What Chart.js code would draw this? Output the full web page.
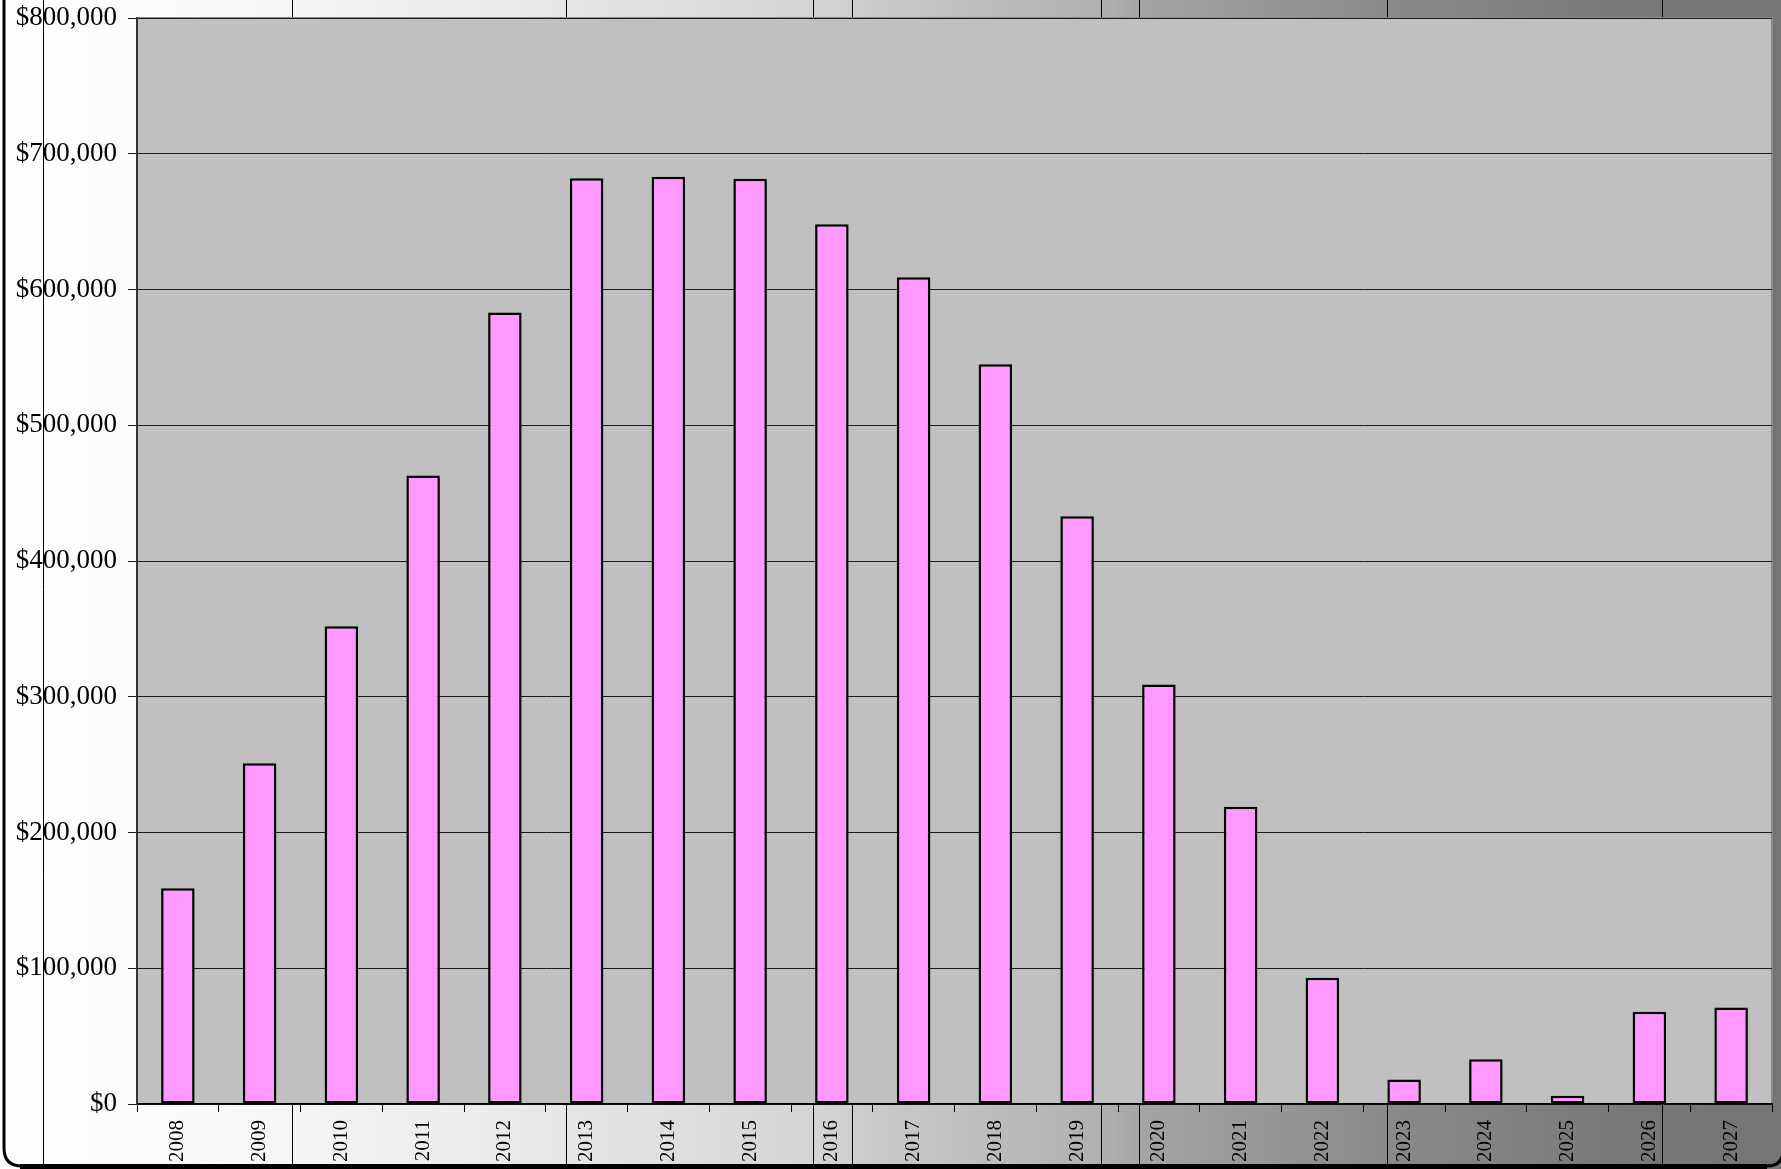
<!DOCTYPE html>
<html>
<head>
    <title>Yearly amounts</title>
    <script src="https://cdn.jsdelivr.net/npm/chart.js"></script>
    <style>
        html, body { margin: 0; padding: 0; background: #fff; }
        #wrap { width: 1781px; height: 1169px; }
    </style>
</head>
<body>
    <div id="wrap">
        <canvas id="barChart" width="1781" height="1169"></canvas>
    </div>

    <script>
        // values
        const years = ['2008', '2009', '2010', '2011', '2012', '2013', '2014', '2015', '2016', '2017',
                       '2018', '2019', '2020', '2021', '2022', '2023', '2024', '2025', '2026', '2027'];
        const amounts = [159000, 251000, 352000, 463000, 583000, 682000, 683000, 681500, 648000, 609000,
                         545000, 433000, 309000, 219000, 93000, 18000, 33000, 6000, 68000, 71000];
        const yMin = 0;
        const yMax = 800000;
        const yStep = 100000;

        // background: grey gradient with thin dark band edges, like the original export
        const bandLines = [43, 292, 566, 813, 852, 1101, 1139, 1387, 1662];

        const backdrop = {
            id: 'backdrop',
            beforeDraw(chart) {
                const ctx = chart.ctx;
                const w = chart.width, h = chart.height;
                const a = chart.chartArea;
                ctx.save();
                const g = ctx.createLinearGradient(0, 0, w, 0);
                g.addColorStop(0, '#ffffff');
                g.addColorStop(0.1, '#fbfbfb');
                g.addColorStop(0.2, '#f2f2f2');
                g.addColorStop(0.32, '#e6e6e6');
                g.addColorStop(0.46, '#d4d4d4');
                g.addColorStop(0.5, '#c8c8c8');
                g.addColorStop(0.62, '#b0b0b0');
                g.addColorStop(0.64, '#a4a4a4');
                g.addColorStop(0.78, '#8a8a8a');
                g.addColorStop(0.93, '#777777');
                g.addColorStop(1, '#757575');
                ctx.fillStyle = g;
                ctx.fillRect(0, 0, w, h);

                ctx.strokeStyle = '#000';
                ctx.lineWidth = 1;
                bandLines.forEach(x => {
                    ctx.beginPath();
                    ctx.moveTo(x + 0.5, 0);
                    ctx.lineTo(x + 0.5, h);
                    ctx.stroke();
                });

                // plot area
                ctx.fillStyle = '#c0c0c0';
                ctx.fillRect(a.left, a.top, a.right - a.left, a.bottom - a.top);
                ctx.strokeStyle = '#8a8a8a';
                ctx.lineWidth = 2;
                ctx.beginPath();
                ctx.moveTo(a.left, a.top);
                ctx.lineTo(a.right, a.top);
                ctx.lineTo(a.right, a.bottom);
                ctx.stroke();
                ctx.restore();
            },
            afterDraw(chart) {
                const ctx = chart.ctx;
                const w = chart.width;
                ctx.save();
                ctx.strokeStyle = '#000';
                ctx.lineWidth = 3;
                ctx.beginPath();
                ctx.moveTo(4, -10);
                ctx.lineTo(4, 1148);
                ctx.quadraticCurveTo(4, 1166, 22, 1166);
                ctx.lineTo(w - 14, 1166);
                ctx.quadraticCurveTo(w + 2, 1166, w + 2, 1150);
                ctx.stroke();
                ctx.fillStyle = '#000';
                ctx.fillRect(20, 1164, w - 34, 6);
                ctx.restore();
            }
        };

        function createBarChart() {
            const ctx = document.getElementById('barChart').getContext('2d');
            new Chart(ctx, {
                type: 'bar',
                data: {
                    labels: years,
                    datasets: [{
                        data: amounts,
                        backgroundColor: '#ff99ff',
                        borderColor: '#000000',
                        borderWidth: 2.5,
                        borderSkipped: false,
                        categoryPercentage: 1.0,
                        barPercentage: 0.41
                    }]
                },
                options: {
                    responsive: false,
                    animation: false,
                    layout: {
                        padding: { left: 0, right: 9, top: 18, bottom: 0 }
                    },
                    scales: {
                        x: {
                            afterFit: s => {
                                s.height = 65;
                                s.paddingLeft = 0;
                                s.paddingRight = 0;
                            },
                            grid: {
                                offset: true,
                                drawOnChartArea: false,
                                drawTicks: true,
                                tickLength: 8,
                                color: '#000'
                            },
                            border: { display: true, color: '#000', width: 1.5 },
                            ticks: {
                                color: '#000',
                                font: { family: 'Liberation Serif', size: 21 },
                                minRotation: 90,
                                maxRotation: 90,
                                padding: 8,
                                autoSkip: false
                            }
                        },
                        y: {
                            min: yMin,
                            max: yMax,
                            afterFit: s => {
                                s.width = 137;
                                s.paddingTop = 0;
                                s.paddingBottom = 0;
                            },
                            grid: {
                                color: '#1a1a1a',
                                lineWidth: 1,
                                tickLength: 9
                            },
                            border: { display: true, color: '#333', width: 2 },
                            ticks: {
                                stepSize: yStep,
                                color: '#000',
                                padding: 11,
                                font: { family: 'Liberation Serif', size: 27 },
                                callback: v => '$' + v.toLocaleString('en-US')
                            }
                        }
                    },
                    plugins: {
                        legend: { display: false },
                        tooltip: { enabled: false }
                    }
                },
                plugins: [backdrop]
            });
        }

        createBarChart();
    </script>
</body>
</html>
